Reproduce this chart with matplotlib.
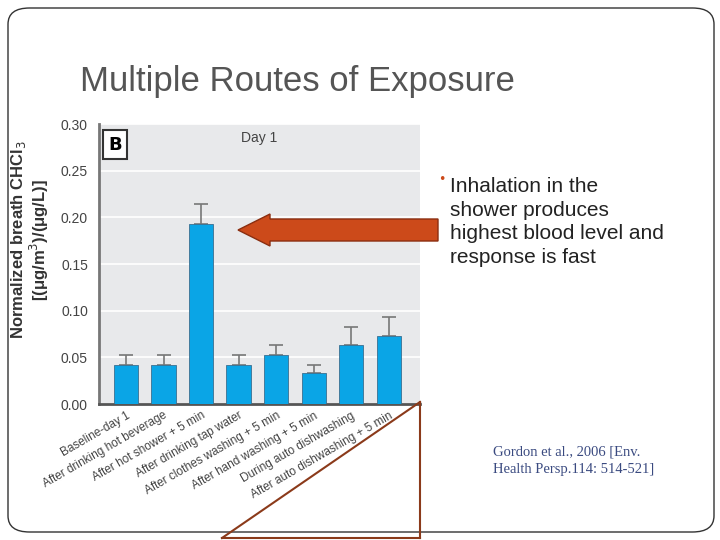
import matplotlib
matplotlib.use("Agg")
import matplotlib.pyplot as plt
from matplotlib.patches import FancyBboxPatch, FancyArrow
from matplotlib.lines import Line2D

categories = ["Baseline-day 1", "After drinking hot beverage", "After hot shower + 5 min",
              "After drinking tap water", "After clothes washing + 5 min",
              "After hand washing + 5 min", "During auto dishwashing",
              "After auto dishwashing + 5 min"]
values = [0.042, 0.042, 0.193, 0.042, 0.053, 0.033, 0.063, 0.073]
errors = [0.011, 0.010, 0.021, 0.011, 0.010, 0.009, 0.019, 0.020]
yticks = [0.00, 0.05, 0.10, 0.15, 0.20, 0.25, 0.30]

W, H = 720, 540
fig = plt.figure(figsize=(7.2, 5.4), dpi=100)
fig.patch.set_facecolor("white")

def fx(x): return x / W
def fy(y): return 1 - y / H

fig.patches.append(FancyBboxPatch((fx(8), fy(532)), fx(706), (524) / H,
                                  boxstyle="round,pad=0,rounding_size=0.03",
                                  transform=fig.transFigure, fill=False,
                                  edgecolor="#333333", lw=1.0))
fig.text(fx(80), fy(82), "Multiple Routes of Exposure", fontsize=25, color="#555555",
         va="center", ha="left", family="Liberation Sans")

ax = fig.add_axes([fx(99), fy(404), fx(321), 280 / H])
ax.set_facecolor("#e8e9eb")
x = list(range(len(values)))
ax.bar(x, values, width=0.65, color="#0aa5e6", edgecolor="#3a6f90", lw=0.6, zorder=3,
       yerr=[[0] * len(errors), errors],
       error_kw=dict(ecolor="#777777", capsize=5, lw=1.2, capthick=1.2, zorder=2))
ax.set_xlim(-0.72, 7.83)
ax.set_ylim(0, 0.30)
ax.set_yticks(yticks)
ax.set_yticklabels([f"{v:.2f}" for v in yticks], fontsize=10, color="#444444",
                   family="Liberation Sans")
ax.yaxis.grid(True, color="white", lw=1.2, zorder=0)
ax.set_axisbelow(True)
ax.tick_params(length=0, pad=8)
for s in ["top", "right"]:
    ax.spines[s].set_visible(False)
ax.spines["left"].set_color("#777777"); ax.spines["left"].set_linewidth(2)
ax.spines["bottom"].set_color("#555555"); ax.spines["bottom"].set_linewidth(2)
ax.set_xticks(x)
ax.set_xticklabels(categories, rotation=30, ha="right", rotation_mode="anchor",
                   fontsize=8.5, color="#444444", family="Liberation Sans")
ax.tick_params(axis="x", pad=4)
ax.text(0.5, 0.95, "Day 1", transform=ax.transAxes, ha="center", va="center",
        fontsize=10, color="#444444", family="Liberation Sans")
ax.text(-0.3, 0.278, "B", fontsize=13, fontweight="bold", ha="center", va="center",
        bbox=dict(boxstyle="square,pad=0.3", fc="white", ec="#333333", lw=1.5), zorder=5)

fig.text(fx(30), fy(240), "Normalized breath CHCl$_3$\n[(\u03bcg/m$^3$)/(\u03bcg/L)]",
         rotation=90, ha="center", va="center", fontsize=12, fontweight="bold",
         color="#333333", linespacing=1.0, family="Liberation Sans")

fig.patches.append(FancyArrow(fx(438), fy(230), fx(-200), 0, width=22 / H,
                              head_width=32 / H, head_length=fx(32),
                              transform=fig.transFigure, length_includes_head=True,
                              fc="#cc4a1a", ec="#8b2e10", lw=1))

fig.text(fx(438), fy(180), "\u2022", fontsize=9, color="#cc4a1a", va="center")
fig.text(fx(450), fy(222), "Inhalation in the\nshower produces\nhighest blood level and\nresponse is fast",
         fontsize=15, color="#222222", va="center", ha="left", linespacing=1.3,
         family="Liberation Sans")
fig.text(fx(493), fy(461), "Gordon et al., 2006 [Env.\nHealth Persp.114: 514-521]",
         fontsize=10.5, color="#3a4a80", va="center", ha="left",
         family="Liberation Serif", linespacing=1.4)

for (x0, y0, x1, y1) in [(420, 402, 222, 538), (420, 402, 420, 538), (222, 538, 420, 538)]:
    fig.add_artist(Line2D([fx(x0), fx(x1)], [fy(y0), fy(y1)], color="#8b3a1a", lw=1.5,
                          transform=fig.transFigure))

fig.savefig("out.png", dpi=100)
